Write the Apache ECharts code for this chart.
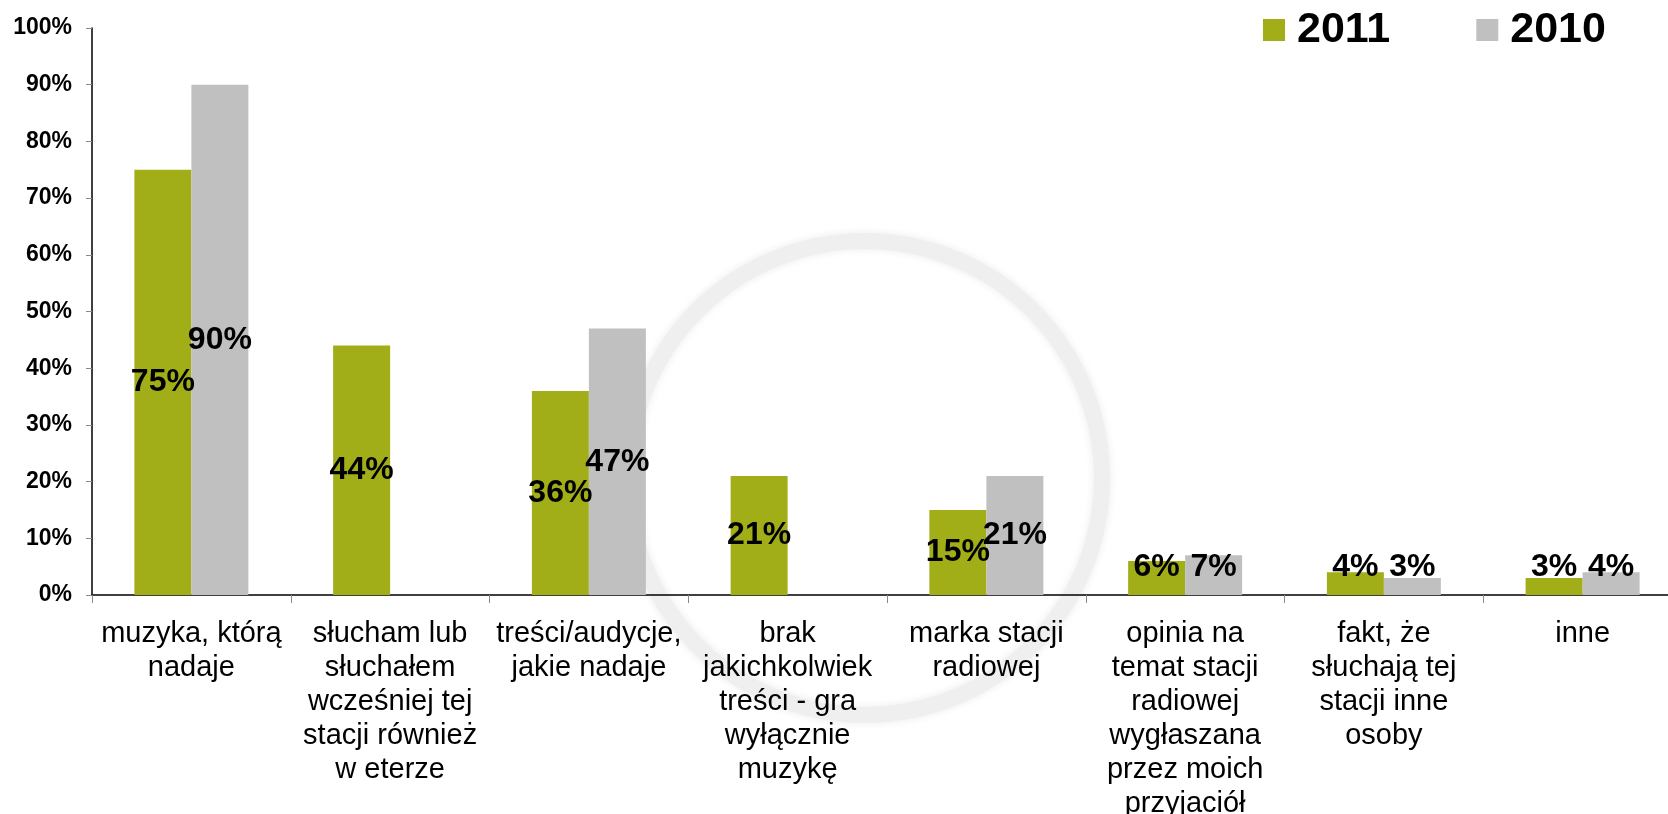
<!DOCTYPE html>
<html>
<head>
<meta charset="utf-8">
<script src="https://cdn.jsdelivr.net/npm/echarts@6/dist/echarts.min.js"></script>
<style>
html,body{margin:0;padding:0;background:#fff;}
#chart{width:1668px;height:814px;}
</style>
</head>
<body>
<div id="chart"></div>
<script>
var categories = [
  'muzyka, którą\nnadaje',
  'słucham lub\nsłuchałem\nwcześniej tej\nstacji również\nw eterze',
  'treści/audycje,\njakie nadaje',
  'brak\njakichkolwiek\ntreści - gra\nwyłącznie\nmuzykę',
  'marka stacji\nradiowej',
  'opinia na\ntemat stacji\nradiowej\nwygłaszana\nprzez moich\nprzyjaciół',
  'fakt, że\nsłuchają tej\nstacji inne\nosoby',
  'inne'
];
var seriesNames = ['2011', '2010'];
var values2011 = [75, 44, 36, 21, 15, 6, 4, 3];
var values2010 = [90, null, 47, null, 21, 7, 3, 4];
var yTicks = [0, 10, 20, 30, 40, 50, 60, 70, 80, 90, 100];

var FONT = '"Liberation Sans", Arial, sans-serif';

function buildData(arr) {
  return arr.map(function (v) {
    if (v === null) return '-';
    if (v < 10) {
      return { value: v, label: { position: 'insideBottom', distance: 11 } };
    }
    return v;
  });
}

var labelStyle = {
  show: true,
  position: 'inside',
  formatter: '{c}%',
  color: '#000',
  fontFamily: FONT,
  fontWeight: 'bold',
  fontSize: 32,
  lineHeight: 34
};

var chart = echarts.init(document.getElementById('chart'), null, { renderer: 'canvas' });
chart.setOption({
  backgroundColor: '#ffffff',
  animation: false,
  graphic: [{
    type: 'ring',
    z: -10,
    silent: true,
    shape: { cx: 865, cy: 478, r: 245, r0: 229 },
    style: { fill: '#efefef', shadowBlur: 8, shadowColor: 'rgba(0,0,0,0.08)' }
  }],
  legend: {
    data: seriesNames,
    left: 1263,
    top: 8,
    padding: 0,
    icon: 'rect',
    itemWidth: 22,
    itemHeight: 22,
    itemGap: 86,
    textStyle: {
      fontFamily: FONT,
      fontWeight: 'bold',
      fontSize: 43,
      lineHeight: 44,
      color: '#000',
      padding: [0, 0, 0, 7]
    }
  },
  grid: {
    left: 92,
    top: 28,
    width: 1590,
    bottom: 219,
    containLabel: false,
    outerBoundsMode: 'none'
  },
  xAxis: {
    type: 'category',
    data: categories,
    boundaryGap: true,
    axisLine: { show: true, lineStyle: { color: '#000', width: 1.5 } },
    axisTick: { show: true, length: 8, lineStyle: { color: '#888' } },
    axisLabel: {
      interval: 0,
      margin: 22,
      color: '#000',
      fontFamily: FONT,
      fontSize: 29,
      lineHeight: 34,
      align: 'center'
    },
    splitLine: { show: false }
  },
  yAxis: {
    type: 'value',
    min: yTicks[0],
    max: yTicks[yTicks.length - 1],
    interval: yTicks[1] - yTicks[0],
    axisLine: { show: true, lineStyle: { color: '#000', width: 1.5 } },
    axisTick: { show: true, length: 6, lineStyle: { color: '#888' } },
    axisLabel: {
      margin: 20,
      color: '#000',
      fontFamily: FONT,
      fontWeight: 'bold',
      fontSize: 23,
      formatter: '{value}%'
    },
    splitLine: { show: false }
  },
  series: [{
    name: seriesNames[0],
    type: 'bar',
    barWidth: 57,
    barGap: '0%',
    itemStyle: { color: '#A2AE17' },
    label: labelStyle,
    data: buildData(values2011)
  }, {
    name: seriesNames[1],
    type: 'bar',
    barWidth: 57,
    barGap: '0%',
    itemStyle: { color: '#C0C0C0' },
    label: labelStyle,
    data: buildData(values2010)
  }]
});
</script>
</body>
</html>
